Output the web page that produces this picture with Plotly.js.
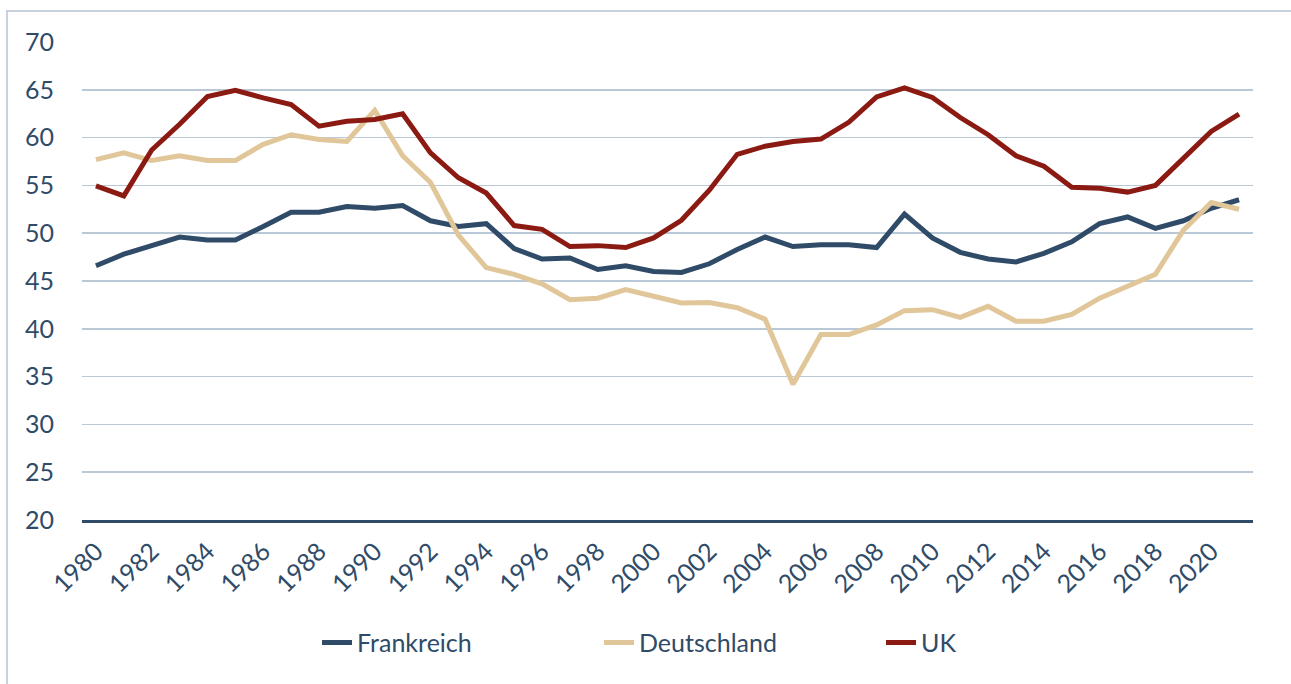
<!DOCTYPE html>
<html>
<head>
<meta charset="utf-8">
<script src="https://cdn.plot.ly/plotly-3.0.1.min.js"></script>
<style>
  html, body { margin:0; padding:0; background:#fff; }
  #chart { width:1291px; height:684px; }
  #frame { position:absolute; left:6px; top:10px; width:1400px; height:800px; border:2px solid #c7d2de; pointer-events:none; }
</style>
</head>
<body>
<div id="frame"></div>
<div id="chart"></div>
<script>
const years = [];
for (let y = 1980; y <= 2021; y++) years.push(y);

const frankreich = [46.6, 47.8, 48.7, 49.6, 49.3, 49.3, 50.7, 52.2, 52.2, 52.8,
  52.6, 52.9, 51.3, 50.7, 51.0, 48.4, 47.3, 47.4, 46.2, 46.6,
  46.0, 45.9, 46.8, 48.3, 49.6, 48.6, 48.8, 48.8, 48.5, 52.0,
  49.5, 48.0, 47.3, 47.0, 47.9, 49.1, 51.0, 51.7, 50.5, 51.3,
  52.6, 53.5];
const deutschland = [57.7, 58.4, 57.6, 58.1, 57.6, 57.6, 59.3, 60.3, 59.8, 59.6,
  62.85, 58.1, 55.3, 49.8, 46.4, 45.7, 44.7, 43.05, 43.2, 44.1,
  43.4, 42.7, 42.75, 42.2, 41.0, 34.2, 39.4, 39.4, 40.4, 41.9,
  42.0, 41.2, 42.35, 40.8, 40.8, 41.5, 43.2, 44.5, 45.7, 50.3,
  53.2, 52.5];
const uk = [54.95, 53.9, 58.7, 61.4, 64.3, 64.95, 64.15, 63.45, 61.2, 61.7,
  61.9, 62.5, 58.4, 55.8, 54.2, 50.8, 50.4, 48.6, 48.7, 48.5,
  49.5, 51.35, 54.5, 58.25, 59.1, 59.6, 59.85, 61.6, 64.25, 65.2,
  64.2, 62.1, 60.3, 58.1, 57.0, 54.8, 54.7, 54.3, 55.0, 57.8,
  60.65, 62.45];

const seriesNames = ['Frankreich', 'Deutschland', 'UK'];
const seriesColors = ['#2f4b68', '#e0c699', '#8b1a12'];
const seriesData = [frankreich, deutschland, uk];

const yTicks = [20, 25, 30, 35, 40, 45, 50, 55, 60, 65, 70];
const xTicks = [];
for (let y = 1980; y <= 2020; y += 2) xTicks.push(y);

const textColor = '#2f4b68';
const fontFamily = 'Lato, "Open Sans", sans-serif';

const traces = seriesData.map((d, i) => ({
  x: years, y: d, name: seriesNames[i], type: 'scatter', mode: 'lines',
  line: { color: seriesColors[i], width: 5, shape: 'linear' },
  hoverinfo: 'x+y+name'
}));

const layout = {
  width: 1291, height: 684,
  margin: { l: 82, r: 38, t: 42, b: 164 },
  paper_bgcolor: 'rgba(0,0,0,0)', plot_bgcolor: 'rgba(0,0,0,0)',
  font: { family: fontFamily, size: 25, color: textColor },
  showlegend: true,
  legend: {
    orientation: 'h', x: 0.2007, xanchor: 'left', y: -0.257, yanchor: 'middle',
    font: { family: fontFamily, size: 25, color: textColor },
    entrywidth: 237, entrywidthmode: 'pixels', itemwidth: 30
  },
  xaxis: {
    range: [1979.5, 2021.5], tickvals: xTicks, ticktext: xTicks.map(String),
    tickangle: -45, showgrid: false, zeroline: false,
    showline: true, linecolor: '#2f4b68', linewidth: 3,
    ticks: '', ticklabelstandoff: 4,
    tickfont: { family: fontFamily, size: 25, color: textColor }
  },
  yaxis: {
    range: [20, 70], tickvals: yTicks, ticktext: yTicks.map(String),
    showgrid: true, gridcolor: '#b9c8d6', gridwidth: 1.5,
    zeroline: false, showline: false, ticks: '',
    ticklabelstandoff: 27,
    tickfont: { family: fontFamily, size: 25, color: textColor }
  }
};

Plotly.newPlot('chart', traces, layout, { displayModeBar: false, staticPlot: true });
</script>
</body>
</html>
